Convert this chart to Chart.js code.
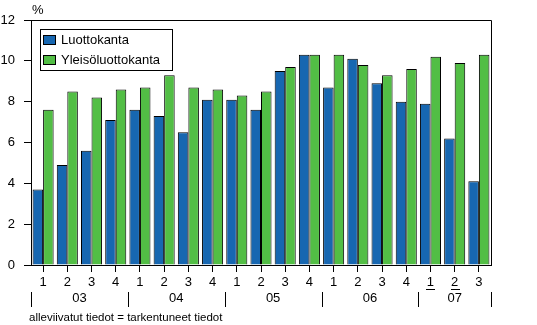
<!DOCTYPE html>
<html>
<head>
<meta charset="utf-8">
<script src="https://cdn.jsdelivr.net/npm/chart.js@4.4.0/dist/chart.umd.min.js"></script>
<style>
    body { margin: 0; background: #fff; }
    #wrap { width: 537px; height: 325px; position: relative; }
</style>
</head>
<body>
<div id="wrap"><canvas id="loanChart"></canvas></div>
<script>
// Quarters along the x axis, years below them
const quarters = ['1', '2', '3', '4', '1', '2', '3', '4', '1', '2', '3', '4', '1', '2', '3', '4', '1', '2', '3'];
const years = ['03', '04', '05', '06', '07'];
// indices of revised (underlined) quarters
const revised = [16, 17];

const luottokanta = [3.7, 4.9, 5.6, 7.1, 7.6, 7.3, 6.5, 8.1, 8.1, 7.6, 9.5, 10.3, 8.7, 10.1, 8.9, 8.0, 7.9, 6.2, 4.1];
const yleisoluottokanta = [7.6, 8.5, 8.2, 8.6, 8.7, 9.3, 8.7, 8.6, 8.3, 8.5, 9.7, 10.3, 10.3, 9.8, 9.3, 9.6, 10.2, 9.9, 10.3];

const footnote = 'alleviivatut tiedot = tarkentuneet tiedot';
const unitLabel = '%';

const FONT = "'Liberation Sans', Arial, sans-serif";
Chart.defaults.font.family = FONT;
Chart.defaults.font.size = 13;
Chart.defaults.color = '#000';

// Frame, legend box, year row and footnote
const extras = {
    id: 'extras',
    afterDraw(chart) {
        const ctx = chart.ctx;
        const a = chart.chartArea;
        const x = chart.scales.x;
        ctx.save();
        ctx.strokeStyle = '#000';
        ctx.lineWidth = 1;

        // top and right edge of the frame
        ctx.beginPath();
        ctx.moveTo(a.left, a.top + 0.5);
        ctx.lineTo(Math.round(a.right) + 0.5, a.top + 0.5);
        ctx.lineTo(Math.round(a.right) + 0.5, a.bottom);
        ctx.stroke();

        // unit label
        ctx.fillStyle = '#000';
        ctx.font = '13px ' + FONT;
        ctx.textAlign = 'left';
        ctx.textBaseline = 'middle';
        ctx.fillText(unitLabel, 32, 10);

        // legend
        ctx.fillStyle = '#fff';
        ctx.fillRect(40, 29, 132, 41);
        ctx.strokeRect(40.5, 29.5, 132, 41);
        chart.data.datasets.forEach((ds, i) => {
            const y = 35 + i * 20;
            ctx.fillStyle = ds.backgroundColor;
            ctx.fillRect(43, y, 12, 9);
            ctx.strokeRect(43.5, y + 0.5, 12, 9);
            ctx.fillStyle = '#000';
            ctx.fillText(ds.label, 61, y + 5);
        });

        // underline revised quarters
        revised.forEach(i => {
            const px = Math.round(x.getPixelForValue(i));
            ctx.beginPath();
            ctx.moveTo(px - 4, 289.5);
            ctx.lineTo(px + 5, 289.5);
            ctx.stroke();
        });

        // year separators and labels
        const step = x.width / quarters.length;
        const starts = [];
        quarters.forEach((q, i) => { if (i === 0 || q === '1') starts.push(i); });
        const bounds = starts.map(i => x.getPixelForValue(i) - step / 2);
        bounds.push(x.getPixelForValue(quarters.length - 1) + step / 2);
        bounds.forEach(b => {
            const bx = Math.round(b) + 0.5;
            ctx.beginPath();
            ctx.moveTo(bx, 292);
            ctx.lineTo(bx, 307);
            ctx.stroke();
        });
        ctx.textAlign = 'center';
        years.forEach((yr, k) => {
            ctx.fillText(yr, (bounds[k] + bounds[k + 1]) / 2, 298);
        });

        // footnote
        ctx.textAlign = 'left';
        ctx.font = '11.5px ' + FONT;
        ctx.fillText(footnote, 29, 318);
        ctx.restore();
    }
};

new Chart(document.getElementById('loanChart'), {
    type: 'bar',
    data: {
        labels: quarters,
        datasets: [{
            label: 'Luottokanta',
            data: luottokanta,
            backgroundColor: '#1767B1',
            borderColor: '#000',
            borderWidth: 1
        }, {
            label: 'Yleisöluottokanta',
            data: yleisoluottokanta,
            backgroundColor: '#52BE45',
            borderColor: '#000',
            borderWidth: 1
        }]
    },
    options: {
        responsive: true,
        maintainAspectRatio: false,
        animation: false,
        layout: { padding: { top: 20, right: 46, bottom: 0, left: 0 } },
        datasets: {
            bar: { categoryPercentage: 0.87, barPercentage: 1.0 }
        },
        plugins: {
            legend: { display: false },
            tooltip: { enabled: false }
        },
        scales: {
            x: {
                afterFit: s => { s.height = 60; },
                grid: { display: true, offset: false, drawOnChartArea: false, tickLength: 7, color: '#000' },
                border: { display: true, color: '#000' },
                ticks: { padding: 3, maxRotation: 0, autoSkip: false }
            },
            y: {
                min: 0,
                max: 12,
                afterFit: s => { s.width = 31; },
                grid: { display: true, drawOnChartArea: false, tickLength: 7, color: '#000' },
                border: { display: true, color: '#000' },
                ticks: { stepSize: 2, padding: 9 }
            }
        }
    },
    plugins: [extras]
});
</script>
</body>
</html>
